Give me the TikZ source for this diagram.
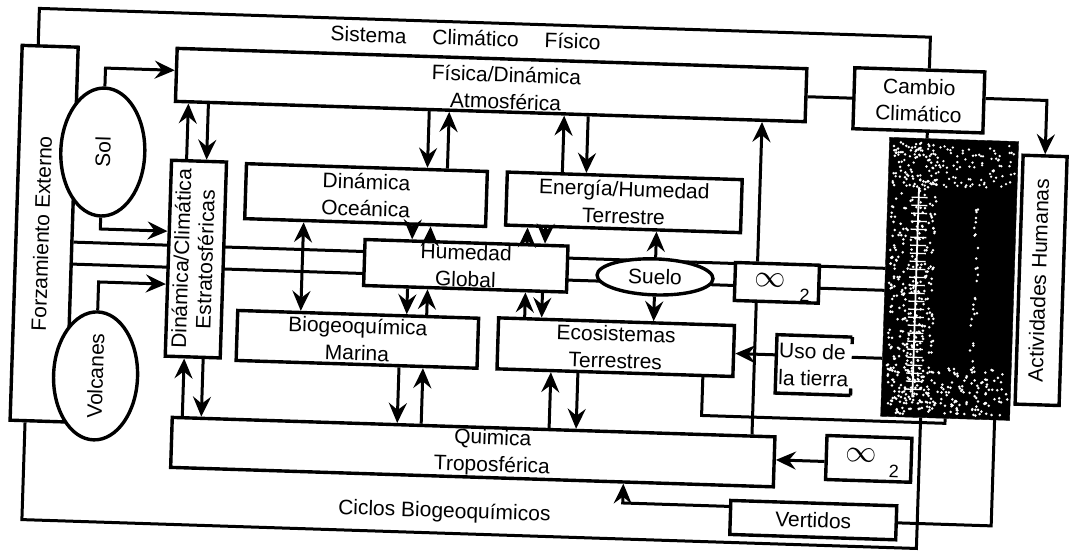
\documentclass[tikz,border=0pt]{standalone}
\usepackage{fontspec}
\setmainfont{Liberation Sans}
\usepackage{graphicx}
\usetikzlibrary{shapes.geometric,arrows.meta}
\pgfdeclarelayer{background}
\pgfsetlayers{background,main}
\newcommand{\fsz}{\fontsize{21}{27}\selectfont}
\newcommand{\vtxt}[1]{\rotatebox{90}{\fontsize{21}{24}\selectfont\begin{tabular}{@{}c@{}}#1\end{tabular}}}
\newcommand{\bigoo}{\scalebox{1.5}{$\infty$}}
\tikzset{
  box/.style={draw, line width=3.4pt, fill=white, rectangle, inner sep=0pt, align=center, font=\fsz},
  ell/.style={draw, line width=3.4pt, fill=white, ellipse, inner sep=0pt, font=\fsz},
  lbl/.style={inner sep=0pt, align=center, font=\fsz},
  small/.style={inner sep=0pt, font=\fontsize{18}{18}\selectfont},
  con/.style={line width=3pt},
  tip/.tip={Stealth[length=20pt,width=18pt,inset=7pt]},
  arr/.style={con, -tip},
  darr/.style={con, tip-tip},
  tilt/.style={transform canvas={rotate around={-1.85:(534,276)}}}
}
\begin{document}
\begin{tikzpicture}[x=1pt,y=-1pt]
\path[use as bounding box] (0,0) rectangle (1069,553);
\begin{scope}[tilt]
% ---- boxes ----
\node[box, minimum width=56pt, minimum height=375pt] (forz) at (43,249.5) {\vtxt{Forzamiento Externo}};
\node[ell, minimum width=84pt, minimum height=128pt] (sol) at (99,166) {\rotatebox{90}{Sol}};
\node[ell, minimum width=84pt, minimum height=128pt] (volc) at (99,390) {\rotatebox{90}{Volcanes}};
\node[box, minimum width=630pt, minimum height=53pt] (atmos) at (485,86.5) {};
\node[lbl] (atmostxt) at (500,89) {Física/Dinámica\\Atmosférica};
\node[box, minimum width=55pt, minimum height=196pt] (strat) at (195.5,270) {\vtxt{Dinámica/Climática\\Estratosféricas}};
\node[box, minimum width=241pt, minimum height=55pt] (ocean) at (363.5,200.5) {Dinámica\\Oceánica};
\node[box, minimum width=235pt, minimum height=53pt] (energia) at (621.5,199.5) {Energía/Humedad\\Terrestre};
\node[box, minimum width=203pt, minimum height=46pt] (humedad) at (465.5,268) {Humedad\\Global};
\node[ell, minimum width=116pt, minimum height=36pt] (suelo) at (655,273) {Suelo};
\node[box, minimum width=84pt, minimum height=38pt] (co2a) at (777,275) {};
\node[lbl] (co2ainf) at (770,273) {\bigoo};
\node[small] (co2atwo) at (805,287) {2};
\node[box, minimum width=241pt, minimum height=50pt] (bio) at (359.5,345) {Biogeoquímica\\Marina};
\node[box, minimum width=236pt, minimum height=51pt] (eco) at (618,344.5) {Ecosistemas\\Terrestres};
\node[minimum width=75pt, minimum height=58pt, inner sep=2pt, align=left, font=\fsz] (uso) at (816.5,356) {Uso de\\la tierra};
\draw[line width=3.4pt] (uso.north east) -- (uso.north west) -- (uso.south west) -- (uso.south east);
\draw[line width=3.4pt] (uso.north east) -- ++(0,7);
\draw[line width=3.4pt] (uso.south east) -- ++(0,-7);
\node[box, minimum width=603pt, minimum height=50pt] (quim) at (478.5,454) {};
\node[lbl] (quimtxt) at (498,454) {Quimica\\Troposférica};
\node[box, minimum width=85pt, minimum height=44pt] (co2b) at (874.5,448) {};
\node[lbl] (co2binf) at (867,444.5) {\bigoo};
\node[small] (co2btwo) at (900,460) {2};
\node[box, minimum width=166pt, minimum height=34pt] (vert) at (821,511) {Vertidos};
\node[box, minimum width=130pt, minimum height=61pt] (cambio) at (913,88) {Cambio\\Climático};
\node[fill=black, draw=black, minimum width=129pt, minimum height=279pt, inner sep=0pt] (panel) at (949.5,265.5) {};
\node[box, minimum width=44pt, minimum height=249pt] (act) at (1041,264) {\vtxt{Actividades Humanas}};
\node[lbl] (sist) at (458,40) {Sistema\hspace{26pt}Climático\hspace{26pt}Físico};
\node[lbl] (ciclos) at (452,515) {Ciclos Biogeoquímicos};
% ---- photo texture ----
\pgfmathsetseed{3}
\foreach \i in {1,...,360} {
  \pgfmathsetmacro{\px}{889+46*rnd}\pgfmathsetmacro{\py}{130+272*rnd}
  \fill[white] (\px,\py) circle[radius=1.4];
}
\foreach \i in {1,...,130} {
  \pgfmathsetmacro{\px}{889+122*rnd}\pgfmathsetmacro{\py}{130+45*rnd}
  \fill[white] (\px,\py) circle[radius=1.3];
}
\foreach \i in {1,...,180} {
  \pgfmathsetmacro{\px}{889+122*rnd}\pgfmathsetmacro{\py}{355+47*rnd}
  \fill[white] (\px,\py) circle[radius=1.4];
}
\foreach \i in {1,...,28} {
  \pgfmathsetmacro{\px}{972+6*rnd}\pgfmathsetmacro{\py}{190+170*rnd}
  \fill[white] (\px,\py) circle[radius=1.4];
}
\draw[white, line width=1.8pt] (916,175) -- (916,385);
\foreach \yy in {185,193,...,380} { \draw[white, line width=1.3pt] (909,\yy) -- (925,\yy); }
% ---- frames ----
\coordinate (ftl) at (31,24.5);
\coordinate (ftr) at (922.5,24.5);
\draw[con] (ftl |- forz.north) -- (ftl) -- (ftr) -- (ftr |- cambio.north);
\coordinate (fbl) at (30,536);
\coordinate (fbr) at (925,536);
\draw[con] (fbl |- forz.south) -- (fbl) -- (fbr) -- (fbr |- panel.south);
% ---- connectors ----
\draw[arr] (sol.north) |- (atmos.west |- 0,82);
\draw[arr] (sol.south) |- (strat.west |- 0,243);
\draw[arr] (volc.north) |- (strat.west |- 0,296);
\draw[arr] (183,0 |- strat.north) -- (183,0 |- atmos.south);
\draw[arr] (203,0 |- atmos.south) -- (203,0 |- strat.north);
\draw[arr] (187,0 |- quim.north) -- (187,0 |- strat.south);
\draw[arr] (206,0 |- strat.south) -- (206,0 |- quim.north);
\draw[arr] (424,0 |- atmos.south) -- (424,0 |- ocean.north);
\draw[arr] (444,0 |- ocean.north) -- (444,0 |- atmos.south);
\draw[arr] (559,0 |- energia.north) -- (559,0 |- atmos.south);
\draw[arr] (583,0 |- atmos.south) -- (583,0 |- energia.north);
\draw[arr] (411,0 |- ocean.south) -- (411,0 |- humedad.north);
\draw[arr] (429,0 |- humedad.north) -- (429,0 |- ocean.south);
\draw[arr] (526,0 |- humedad.north) -- (526,0 |- energia.south);
\draw[arr] (544,0 |- energia.south) -- (544,0 |- humedad.north);
\draw[arr] (408,0 |- humedad.south) -- (408,0 |- bio.north);
\draw[arr] (428,0 |- bio.north) -- (428,0 |- humedad.south);
\draw[arr] (526,0 |- eco.north) -- (526,0 |- humedad.south);
\draw[arr] (543,0 |- humedad.south) -- (543,0 |- eco.north);
\draw[arr] (402,0 |- bio.south) -- (402,0 |- quim.north);
\draw[arr] (426,0 |- quim.north) -- (426,0 |- bio.south);
\draw[arr] (554,0 |- quim.north) -- (554,0 |- eco.south);
\draw[arr] (581,0 |- eco.south) -- (581,0 |- quim.north);
\draw[darr] (302,0 |- ocean.south) -- (302,0 |- bio.north);
\draw[arr] (suelo.north) -- (suelo.north |- energia.south);
\draw[arr] (suelo.south) -- (suelo.south |- eco.north);
\draw[arr] (757,0 |- co2a.north) -- (757,0 |- atmos.south);
\draw[con] (757,0 |- co2a.south) -- (757,0 |- quim.north);
\draw[arr] (uso.west |- 0,347) -- (eco.east |- 0,347);
\draw[con] (panel.west |- 0,347) -- (uso.east |- 0,347);
\draw[con] (706,0 |- eco.south) |- (panel.south |- 0,410) -- (panel.south);
\draw[con] (999,0 |- panel.south) |- (vert.east);
\draw[arr] (vert.west |- 0,500) -| (630,0 |- quim.south);
\draw[arr] (co2b.west |- 0,452) -- (quim.east |- 0,452);
\draw[con] (atmos.east |- 0,88) -- (cambio.west |- 0,88);
\draw[arr] (cambio.east |- 0,84) -| (act.north);
\draw[con] (922.5,0 |- cambio.south) -- (922.5,0 |- panel.north);
\end{scope}
\begin{pgfonlayer}{background}
\begin{scope}[tilt]
\draw[con] (forz.east |- 0,257) -- (panel.west |- 0,257);
\draw[con] (forz.east |- 0,279) -- (panel.west |- 0,279);
\end{scope}
\end{pgfonlayer}
\end{tikzpicture}
\end{document}
